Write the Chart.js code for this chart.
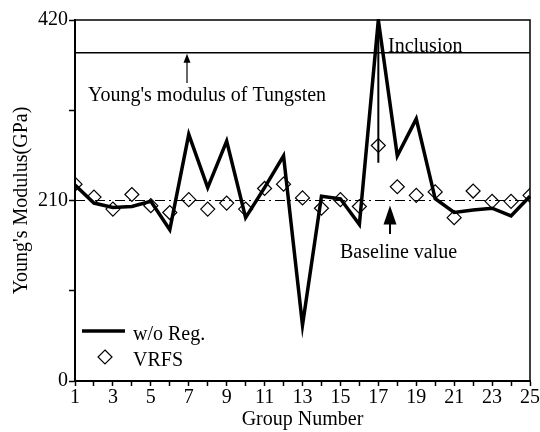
<!DOCTYPE html>
<html>
<head>
<meta charset="utf-8">
<script src="https://cdn.jsdelivr.net/npm/chart.js@4/dist/chart.umd.min.js"></script>
<style>
body{margin:0;background:#fff;}
</style>
</head>
<body>
<canvas id="modChart" width="540" height="432"></canvas>
<script>
//data
let groups=[1,2,3,4,5,6,7,8,9,10,11,12,13,14,15,16,17,18,19,20,21,22,23,24,25];
let woReg=[228,207,202,203,209,176,287,225,279,190,225,262,65,215,212,182,420,262,305,212,196,199,201,192,215];
let vrfs=[229,214,200,217,204,196,211,200,207,200,224,229,213,201,211,203,274,226,216,220,190,221,209,209,216];
let tungsten=382;
let baseline=210;
let inclusionGroup=17;
let inclusionLow=254;
let yLabeled=[0,210,420];

let serif='"Liberation Serif", "DejaVu Serif", serif';

function pts(xs, ys){
  return xs.map(function(x,i){return {x:x,y:ys[i]};});
}

//annotations, frame and legend
let extras={
  id:'extras',
  afterDatasetsDraw:function(chart){
    let ctx=chart.ctx;
    let a=chart.chartArea;
    let ys=chart.scales.y;
    ctx.save();
    ctx.strokeStyle='#000';
    ctx.fillStyle='#000';
    //frame top + right
    ctx.lineWidth=1.5;
    ctx.beginPath();
    ctx.moveTo(a.left,a.top);
    ctx.lineTo(a.right,a.top);
    ctx.lineTo(a.right,a.bottom);
    ctx.stroke();

    ctx.font='20px '+serif;
    ctx.textBaseline='alphabetic';
    ctx.fillText("Young's modulus of Tungsten",88,101);
    ctx.fillText('Inclusion',388,52);
    ctx.fillText('Baseline value',340,258);

    //small arrow to tungsten line
    let tipT=ys.getPixelForValue(tungsten)+1;
    ctx.lineWidth=1.2;
    ctx.beginPath();
    ctx.moveTo(187,83);
    ctx.lineTo(187,tipT+8);
    ctx.stroke();
    ctx.beginPath();
    ctx.moveTo(187,tipT);
    ctx.lineTo(183.5,tipT+9);
    ctx.lineTo(190.5,tipT+9);
    ctx.closePath();
    ctx.fill();

    //big arrow to baseline
    let tipB=ys.getPixelForValue(baseline)+5;
    ctx.lineWidth=2;
    ctx.beginPath();
    ctx.moveTo(390,234);
    ctx.lineTo(390,tipB+15);
    ctx.stroke();
    ctx.beginPath();
    ctx.moveTo(390,tipB);
    ctx.lineTo(383.5,tipB+19);
    ctx.lineTo(396.5,tipB+19);
    ctx.closePath();
    ctx.fill();

    //legend
    ctx.lineWidth=3.5;
    ctx.beginPath();
    ctx.moveTo(82,331);
    ctx.lineTo(125,331);
    ctx.stroke();
    ctx.fillText('w/o Reg.',133,340);
    ctx.lineWidth=1.2;
    ctx.beginPath();
    ctx.moveTo(105,350);
    ctx.lineTo(112,357);
    ctx.lineTo(105,364);
    ctx.lineTo(98,357);
    ctx.closePath();
    ctx.stroke();
    ctx.fillText('VRFS',133,366);
    ctx.restore();
  }
};

let modChart=document.getElementById('modChart');
let chart=new Chart(modChart,{
  type:'line',
  data:{
    datasets:[
      {
        label:'w/o Reg.',
        data:pts(groups,woReg),
        borderColor:'#000',
        borderWidth:3.5,
        pointRadius:0,
        tension:0,
        clip:1,
        order:1
      },
      {
        label:'VRFS',
        data:pts(groups,vrfs),
        showLine:false,
        pointStyle:'rectRot',
        pointRadius:7,
        pointBorderWidth:1.2,
        pointBorderColor:'#000',
        pointBackgroundColor:'rgba(255,255,255,0)',
        order:0
      },
      {
        label:'tungsten',
        data:pts([groups[0],groups[groups.length-1]],[tungsten,tungsten]),
        borderColor:'#000',
        borderWidth:1.5,
        pointRadius:0
      },
      {
        label:'baseline',
        data:pts([groups[0],groups[groups.length-1]],[baseline,baseline]),
        borderColor:'#000',
        borderWidth:1,
        borderDash:[10,4,2,4],
        pointRadius:0
      },
      {
        label:'inclusion',
        data:pts([inclusionGroup,inclusionGroup],[420,inclusionLow]),
        borderColor:'#000',
        borderWidth:2,
        pointRadius:0
      }
    ]
  },
  options:{
    responsive:false,
    animation:false,
    layout:{padding:{top:20,right:10,left:0,bottom:0}},
    plugins:{legend:{display:false},tooltip:{enabled:false}},
    scales:{
      x:{
        type:'linear',
        min:1,max:25,
        afterFit:function(s){s.height=51;},
        border:{color:'#000',width:2},
        grid:{drawOnChartArea:false,color:'#000',tickLength:5,tickWidth:1.5},
        ticks:{
          stepSize:1,autoSkip:false,maxRotation:0,padding:0,color:'#000',
          font:{family:serif,size:20},
          callback:function(v){return v%2?v:'';}
        },
        title:{display:true,text:'Group Number',color:'#000',font:{family:serif,size:20},padding:{top:-3,bottom:0}}
      },
      y:{
        min:0,max:420,
        afterFit:function(s){s.width=75;},
        border:{color:'#000',width:2},
        grid:{drawOnChartArea:false,color:'#000',tickLength:6,tickWidth:1.5},
        ticks:{
          stepSize:105,padding:1,color:'#000',
          font:{family:serif,size:20},
          callback:function(v){return yLabeled.indexOf(v)>=0?v:'';}
        },
        title:{display:true,text:"Young's Modulus(GPa)",color:'#000',font:{family:serif,size:20},padding:{top:10,bottom:0}}
      }
    }
  },
  plugins:[extras]
});
</script>
</body>
</html>
